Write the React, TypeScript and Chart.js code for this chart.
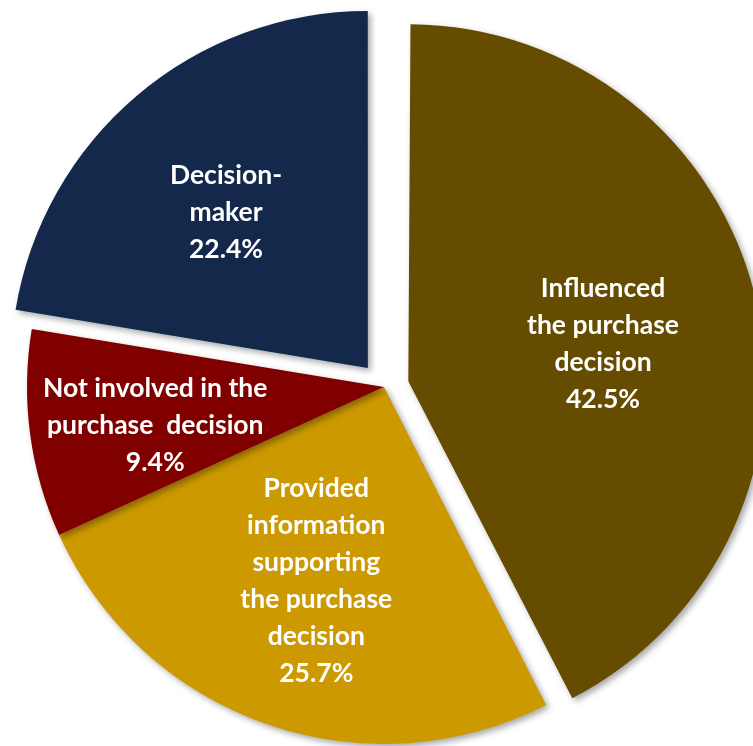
import React, { useEffect, useRef } from "react";
import { Chart, registerables } from "chart.js";

Chart.register(...registerables);

const CATEGORIES = [
  "Influenced the purchase decision",
  "Provided information supporting the purchase decision",
  "Not involved in the purchase decision",
  "Decision-maker",
];
const VALUES = [42.5, 25.7, 9.4, 22.4];
const LABEL_LINES = [
  ["Influenced", "the purchase", "decision", "42.5%"],
  ["Provided", "information", "supporting", "the purchase", "decision", "25.7%"],
  ["Not involved in the", "purchase  decision", "9.4%"],
  ["Decision-", "maker", "22.4%"],
];
const COLORS = ["#664c00", "#cc9900", "#800000", "#13284a"];
const OFFSETS = [100, 0, 0, 100];
const LABEL_RADIUS_FRAC = [0.555, 0.575, 0.65, 0.59];
const LABEL_ANGLE_SHIFT = [2.8, 0, -2.1, -2];
const PIE_RADIUS = 357;

const piePlugin = {
  id: "pieDecor",
  afterUpdate(chart: any) {
    const meta = chart.getDatasetMeta(0);
    meta.data.forEach((arc: any, i: number) => {
      const off = (OFFSETS[i] || 0) / 4;
      const circ = arc.endAngle - arc.startAngle;
      const fix = 1 - Math.sin(Math.min(Math.PI, circ));
      arc.outerRadius = PIE_RADIUS - off * fix;
    });
  },
  beforeDatasetsDraw(chart: any) {
    const ctx = chart.ctx;
    ctx.save();
    ctx.shadowColor = "rgba(0,0,0,0.35)";
    ctx.shadowBlur = 6;
    ctx.shadowOffsetX = 3;
    ctx.shadowOffsetY = 3;
  },
  afterDatasetsDraw(chart: any) {
    const ctx = chart.ctx;
    ctx.restore();
    const meta = chart.getDatasetMeta(0);
    ctx.save();
    ctx.fillStyle = "#ffffff";
    ctx.font = "bold 26.5px Lato";
    ctx.textAlign = "center";
    ctx.textBaseline = "middle";
    const lh = 37;
    meta.data.forEach((arc: any, i: number) => {
      const mid = (arc.startAngle + arc.endAngle) / 2;
      const off = (OFFSETS[i] || 0) / 4;
      const ox = arc.x + Math.cos(mid) * off;
      const oy = arc.y + Math.sin(mid) * off;
      const a = mid + (LABEL_ANGLE_SHIFT[i] * Math.PI) / 180;
      const r = LABEL_RADIUS_FRAC[i] * PIE_RADIUS;
      const cx = ox + Math.cos(a) * r;
      const cy = oy + Math.sin(a) * r;
      const lines = LABEL_LINES[i];
      const top = cy - ((lines.length - 1) * lh) / 2;
      lines.forEach((t, j) => ctx.fillText(t, cx, top + j * lh));
    });
    ctx.restore();
  },
};

export default function App() {
  const ref = useRef<HTMLCanvasElement>(null);
  useEffect(() => {
    if (!ref.current) return;
    const chart = new Chart(ref.current, {
      type: "pie",
      data: {
        labels: CATEGORIES,
        datasets: [
          {
            data: VALUES,
            backgroundColor: COLORS,
            borderWidth: 0,
            offset: OFFSETS,
          },
        ],
      },
      options: {
        responsive: false,
        animation: false,
        radius: PIE_RADIUS,
        layout: { padding: { left: 15, top: 28, right: 0, bottom: 0 } },
        plugins: { legend: { display: false }, tooltip: { enabled: false } },
      } as any,
      plugins: [piePlugin],
    });
    return () => chart.destroy();
  }, []);
  return (
    <div style={{ position: "absolute", left: 0, top: 0, width: 753, height: 746, background: "#fff" }}>
      <canvas ref={ref} width={753} height={746} style={{ display: "block", width: 753, height: 746 }} />
    </div>
  );
}
